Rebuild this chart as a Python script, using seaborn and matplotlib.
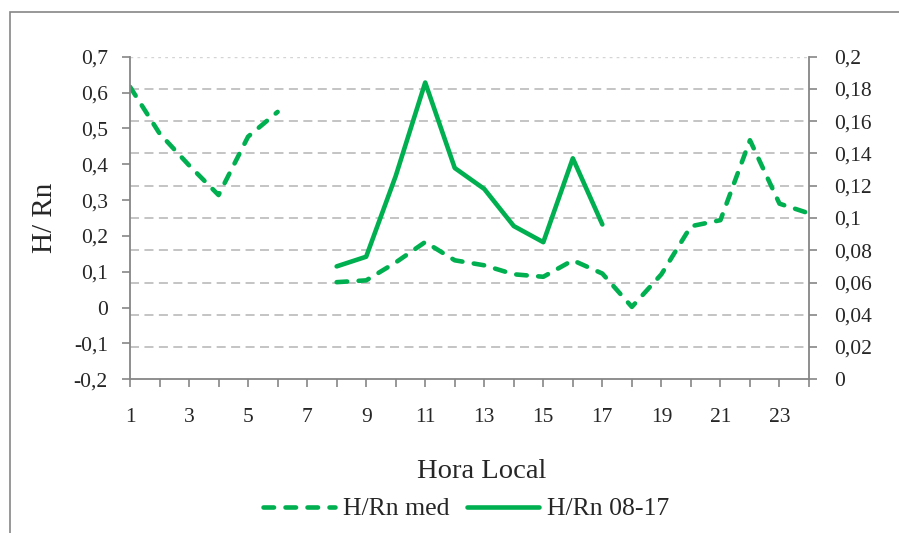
import numpy as np
import pandas as pd
import matplotlib
matplotlib.use("Agg")
import matplotlib.pyplot as plt
import seaborn as sns
from matplotlib.ticker import FuncFormatter
from matplotlib.patches import Rectangle

# hora local 1..24
hours = list(range(1, 25))
# H/Rn med (eixo esquerdo), hora 7 sem dado
hrn_med = [0.616, 0.486, 0.397, 0.314, 0.477, 0.546, np.nan, 0.071, 0.076, 0.126,
           0.183, 0.132, 0.118, 0.093, 0.086, 0.132, 0.095, 0.002, 0.093, 0.227,
           0.244, 0.467, 0.290, 0.263]
# H/Rn 08-17 (eixo direito)
hours_day = list(range(8, 18))
hrn_day = [0.070, 0.076, 0.126, 0.184, 0.131, 0.118, 0.095, 0.085, 0.137, 0.096]

left_ticks = [-0.2, -0.1, 0, 0.1, 0.2, 0.3, 0.4, 0.5, 0.6, 0.7]
right_ticks = [0, 0.02, 0.04, 0.06, 0.08, 0.1, 0.12, 0.14, 0.16, 0.18, 0.2]

sns.set_style("white")
plt.rcParams['font.family'] = ['Liberation Serif', 'DejaVu Serif']

green = '#00B050'
axis_gray = '#868686'
grid_gray = '#BFBFBF'

fig = plt.figure(figsize=(8.99, 5.33), dpi=100)
ax = fig.add_axes([130 / 899, 1 - 379.3 / 533, 679 / 899, 322.6 / 533])
ax2 = ax.twinx()

med = pd.DataFrame({'hora': hours, 'hrn': hrn_med})
parts = [med[med.hora <= 6], med[med.hora >= 8]]
dash = (2.3, 2.5)
for i, part in enumerate(parts):
    sns.lineplot(data=part, x='hora', y='hrn', ax=ax, color=green, lw=3.3,
                 label='H/Rn med' if i == 0 else None, legend=False)
for ln in ax.get_lines():
    ln.set_dashes(dash)
    ln.set_dash_capstyle('round')

day = pd.DataFrame({'hora': hours_day, 'hrn': hrn_day})
sns.lineplot(data=day, x='hora', y='hrn', ax=ax2, color=green, lw=3.3,
             label='H/Rn 08-17', legend=False)
ax2.get_lines()[0].set_solid_capstyle('round')

# gridlines follow right axis, drawn behind dashed series
for t in right_ticks[1:]:
    if t == right_ticks[-1]:
        ax2.axhline(t, color='#D4D4D4', lw=1.0, ls=(0, (2, 3)), zorder=0)
    else:
        ax2.axhline(t, color=grid_gray, lw=1.3, ls=(0, (5, 3)), zorder=0)
ax.set_zorder(ax2.get_zorder() + 1)
ax.patch.set_visible(False)

ax.set_xlim(1, 24)
ax.set_ylim(-0.2, 0.7)
ax2.set_ylim(0, 0.2)
ax.set_xticks(hours)
ax.set_xticklabels([str(h) if h % 2 == 1 else '' for h in hours])
ax.set_yticks(left_ticks)
ax2.set_yticks(right_ticks)
fmt = FuncFormatter(lambda v, p: f"{v:g}".replace('.', ','))
ax.yaxis.set_major_formatter(fmt)
ax2.yaxis.set_major_formatter(fmt)

for a in (ax, ax2):
    for s in a.spines.values():
        s.set_visible(False)
ax.spines['left'].set_visible(True)
ax.spines['bottom'].set_visible(True)
ax2.spines['right'].set_visible(True)
for a, side in ((ax, 'left'), (ax, 'bottom'), (ax2, 'right')):
    a.spines[side].set_color(axis_gray)
    a.spines[side].set_linewidth(1.3)

ax.tick_params(axis='y', direction='out', length=6, width=1.2, color=axis_gray,
               labelsize=15.5, pad=10, left=True)
ax.tick_params(axis='x', direction='out', length=6, width=1.2, color=axis_gray,
               labelsize=15.5, pad=15, bottom=True)
ax2.tick_params(axis='y', direction='out', length=6, width=1.2, color=axis_gray,
                labelsize=15.5, pad=12, right=True)

ax.set_xlabel('Hora Local', fontsize=20.5, va='center')
ax.xaxis.set_label_coords((482 - 130) / 679, (379.3 - 471.7) / 322.6)
ax.set_ylabel('H/ Rn', fontsize=21, va='center')
ax.yaxis.set_label_coords((45 - 130) / 679, 0.5)
ax2.set_ylabel('')

handles = ax.get_lines()[:1] + ax2.get_lines()[:1]
fig.legend(handles, ['H/Rn med', 'H/Rn 08-17'], loc='center', ncol=2,
           bbox_to_anchor=(466 / 899, 1 - 509 / 533), frameon=False,
           fontsize=18.5, handlelength=2.8, handletextpad=0.3, columnspacing=0.7)

fig.patches.append(Rectangle((10 / 899, -0.1), 1.2, 0.1 + (1 - 12 / 533),
                             transform=fig.transFigure, fill=False,
                             edgecolor=axis_gray, lw=1.2))

fig.savefig('out.png', dpi=100)
